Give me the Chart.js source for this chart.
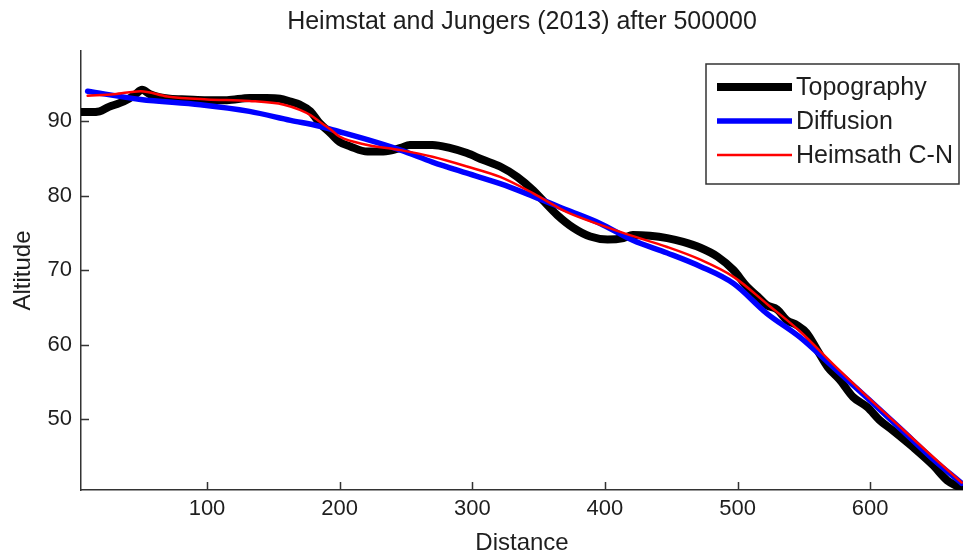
<!DOCTYPE html>
<html>
<head>
<meta charset="utf-8">
<title>Heimstat and Jungers (2013)</title>
<script src="https://cdn.jsdelivr.net/npm/chart.js@4.4.0/dist/chart.umd.min.js"></script>
<style>
  html, body { margin: 0; padding: 0; background: #fff; }
  #wrap { position: relative; width: 963px; height: 555px; }
</style>
</head>
<body>
<div id="wrap"><canvas id="profile"></canvas></div>
<script>
"use strict";

// --- profile data (distance along hillslope, altitude) ---
// measured topography
const topoDist = [5, 12, 19, 26, 34, 41, 46, 51, 57, 64, 72, 85, 100, 115, 132, 145, 155, 163, 170, 178,
    185, 193, 200, 208, 221, 233, 246, 253, 270, 283, 296, 308, 321, 334, 346, 353, 364, 376, 389, 402,
    414, 421, 434, 447, 459, 472, 485, 497, 507, 515, 522, 530, 537, 545, 552, 560, 568, 577, 587, 598,
    607, 617, 632, 647, 658, 668];
const topoAlt = [91.2, 91.2, 91.3, 91.9, 92.4, 93.0, 93.6, 94.2, 93.6, 93.2, 93.0, 92.9, 92.8, 92.8, 93.1, 93.1, 93.0, 92.6, 92.2, 91.3,
    89.7, 88.4, 87.2, 86.6, 85.9, 85.9, 86.4, 86.8, 86.8, 86.4, 85.7, 84.8, 83.9, 82.5, 80.7, 79.4, 77.4, 75.7, 74.5, 74.1,
    74.3, 74.7, 74.6, 74.3, 73.8, 73.0, 71.8, 70.0, 67.8, 66.5, 65.3, 64.7, 63.3, 62.6, 61.6, 59.3, 57.0, 55.3, 53.0, 51.6,
    49.9, 48.5, 46.3, 43.9, 41.8, 40.8];

// linear diffusion model
const diffDist = [10, 50, 95, 132, 163, 185, 195, 221, 246, 270, 296, 321, 346, 371, 396, 421, 447, 472, 497, 522,
    547, 572, 598, 623, 647, 669];
const diffAlt = [94.0, 92.9, 92.2, 91.3, 90.1, 89.3, 88.8, 87.5, 86.1, 84.5, 83.0, 81.6, 79.9, 78.1, 76.3, 74.0, 72.3, 70.5, 68.2, 64.2,
    61.0, 57.0, 52.8, 48.7, 44.7, 41.4];

// Heimsath cosmogenic-nuclide production model
const heimDist = [10, 30, 50, 70, 100, 132, 158, 170, 178, 185, 193, 200, 221, 246, 270, 296, 321, 346, 371, 396,
    417, 447, 472, 497, 522, 547, 572, 598, 623, 647, 669];
const heimAlt = [93.4, 93.6, 94.0, 93.3, 92.9, 92.7, 92.2, 91.5, 90.8, 89.9, 88.9, 87.9, 86.8, 86.1, 85.2, 83.9, 82.5, 80.3, 77.8, 76.1,
    74.8, 73.1, 71.4, 69.1, 65.5, 61.8, 57.4, 53.0, 48.9, 45.0, 41.5];

// axis ticks
const xTicks = [100, 200, 300, 400, 500, 600];
const yTicks = [50, 60, 70, 80, 90];

const FONT = '"Liberation Sans", Arial, sans-serif';
const INK = '#1e1e1e';

function toPoints(xs, ys) {
    return xs.map((x, i) => ({ x: x, y: ys[i] }));
}

// ticks pointing into the plot, like the MATLAB default
const inwardTicks = {
    id: 'inwardTicks',
    beforeDatasetsDraw(chart) {
        const { ctx, chartArea } = chart;
        const xs = chart.scales.x, ys = chart.scales.y;
        ctx.save();
        ctx.strokeStyle = '#333';
        ctx.lineWidth = 1.5;
        ctx.beginPath();
        xs.ticks.forEach(t => {
            const px = Math.round(xs.getPixelForValue(t.value)) + 0.5;
            ctx.moveTo(px, chartArea.bottom);
            ctx.lineTo(px, chartArea.bottom - 8);
        });
        ys.ticks.forEach(t => {
            const py = Math.round(ys.getPixelForValue(t.value)) + 0.5;
            ctx.moveTo(chartArea.left, py);
            ctx.lineTo(chartArea.left + 8, py);
        });
        ctx.stroke();
        ctx.restore();
    }
};

// boxed legend in the upper right corner
const boxLegend = {
    id: 'boxLegend',
    afterDraw(chart) {
        const ctx = chart.ctx;
        const x0 = 706, y0 = 64, w = 253, h = 120;
        ctx.save();
        ctx.fillStyle = '#fff';
        ctx.fillRect(x0, y0, w, h);
        ctx.strokeStyle = '#333';
        ctx.lineWidth = 1.5;
        ctx.strokeRect(x0, y0, w, h);
        ctx.font = '25px ' + FONT;
        ctx.textBaseline = 'middle';
        ctx.textAlign = 'left';
        chart.data.datasets.forEach((ds, i) => {
            const y = y0 + 23 + i * 34;
            ctx.strokeStyle = ds.borderColor;
            ctx.lineWidth = ds.borderWidth;
            ctx.beginPath();
            ctx.moveTo(x0 + 11, y);
            ctx.lineTo(x0 + 86, y);
            ctx.stroke();
            ctx.fillStyle = INK;
            ctx.fillText(ds.label, x0 + 90, y + 1);
        });
        ctx.restore();
    }
};

const ctx = document.getElementById('profile');

new Chart(ctx, {
    type: 'line',
    data: {
        datasets: [{
            label: 'Topography',
            data: toPoints(topoDist, topoAlt),
            borderColor: '#000',
            borderWidth: 8,
            order: 3,
        }, {
            label: 'Diffusion',
            data: toPoints(diffDist, diffAlt),
            borderColor: '#0000ff',
            borderWidth: 5.5,
            order: 2,
        }, {
            label: 'Heimsath C-N',
            data: toPoints(heimDist, heimAlt),
            borderColor: '#ff0000',
            borderWidth: 2.5,
            order: 1,
        }]
    },
    options: {
        responsive: true,
        maintainAspectRatio: false,
        animation: false,
        events: [],
        layout: { padding: 0 },
        elements: {
            point: { radius: 0 },
            line: { tension: 0, cubicInterpolationMode: 'monotone', borderCapStyle: 'round', borderJoinStyle: 'round' },
        },
        scales: {
            x: {
                type: 'linear',
                min: 5,
                max: 670,
                afterBuildTicks(scale) {
                    scale.ticks = xTicks.map(v => ({ value: v }));
                },
                afterFit(scale) {
                    scale.height = 65;
                },
                border: { display: true, color: '#333', width: 1.5 },
                grid: { drawOnChartArea: false, drawTicks: false },
                ticks: {
                    padding: 6,
                    color: INK,
                    font: { family: FONT, size: 22 },
                },
                title: {
                    display: true,
                    text: 'Distance',
                    color: INK,
                    font: { family: FONT, size: 24, lineHeight: 1.0 },
                    padding: { top: 0, bottom: 0 },
                },
            },
            y: {
                type: 'linear',
                min: 40.5,
                max: 99.4,
                afterBuildTicks(scale) {
                    scale.ticks = yTicks.map(v => ({ value: v }));
                },
                afterFit(scale) {
                    scale.width = 81;
                },
                border: { display: true, color: '#333', width: 1.5 },
                grid: { drawOnChartArea: false, drawTicks: false },
                ticks: {
                    padding: 9,
                    color: INK,
                    font: { family: FONT, size: 22 },
                },
                title: {
                    display: true,
                    text: 'Altitude',
                    color: INK,
                    font: { family: FONT, size: 24 },
                    padding: { top: 9, bottom: 0 },
                },
            },
        },
        plugins: {
            legend: { display: false },
            tooltip: { enabled: false },
            title: {
                display: true,
                fullSize: false,
                text: 'Heimstat and Jungers (2013) after 500000',
                color: INK,
                font: { family: FONT, size: 25, weight: 'normal', lineHeight: 1.2 },
                padding: { top: 7, bottom: 14 },
            },
        },
    },
    plugins: [inwardTicks, boxLegend],
});
</script>
</body>
</html>
